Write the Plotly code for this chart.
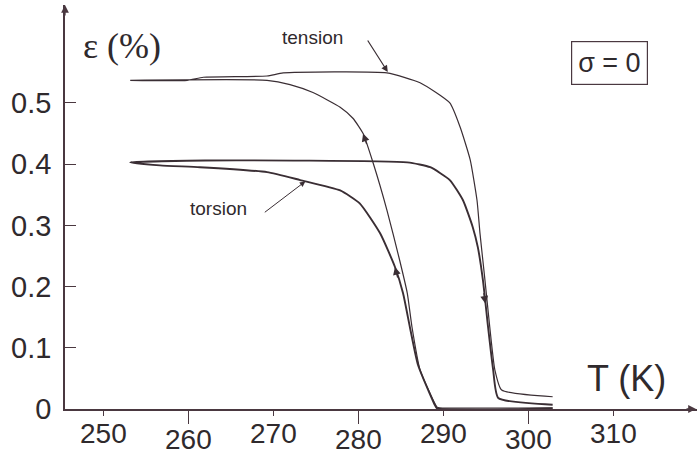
import numpy as np
import plotly.graph_objects as go

# ---------------- data ----------------
tension_cool_T = [302.9, 289.6, 289.3, 287.3, 286.35, 285.8, 284.9, 283.4, 281.8, 280.6, 279.4, 277.9, 274.7, 272.0, 269.3, 253.2]
tension_cool_eps = [0.002, 0.002, 0.003, 0.064, 0.134, 0.189, 0.243, 0.325, 0.401, 0.450, 0.475, 0.493, 0.517, 0.530, 0.537, 0.537]

tension_heat_T = [253.2, 259.9, 261.8, 269.3, 271.2, 283.4, 287.3, 290.8, 292.0, 293.2, 294.0, 294.35, 294.9, 295.5, 296.1, 296.9, 302.9]
tension_heat_eps = [0.537, 0.537, 0.542, 0.544, 0.549, 0.549, 0.533, 0.500, 0.461, 0.407, 0.341, 0.287, 0.215, 0.134, 0.064, 0.031, 0.020]

torsion_cool_T = [302.9, 289.3, 289.06, 287.06, 286.1, 285.3, 284.35, 282.6, 280.2, 277.9, 273.2, 269.3, 261.4, 256.7, 253.2]
torsion_cool_eps = [0.001, 0.001, 0.006, 0.072, 0.134, 0.189, 0.232, 0.287, 0.336, 0.357, 0.374, 0.387, 0.395, 0.398, 0.403]

torsion_heat_T = [253.2, 262.0, 285.8, 288.5, 290.8, 292.35, 293.5, 294.1, 294.7, 295.3, 295.9, 296.5, 302.9]
torsion_heat_eps = [0.403, 0.406, 0.403, 0.395, 0.374, 0.341, 0.297, 0.264, 0.210, 0.134, 0.064, 0.018, 0.007]

x_tick_vals = [250, 260, 270, 280, 290, 300, 310]
y_tick_vals = [0, 0.1, 0.2, 0.3, 0.4, 0.5]
y_tick_text = ["0", "0.1", "0.2", "0.3", "0.4", "0.5"]

# ---------------- figure ----------------
W, H = 697, 457
ML, MR, MT, MB = 65, 0, 5, 48
X_RANGE = [245.53, 319.88]
Y_RANGE = [0, 0.660]

LINE = "#3a2e34"
AXIS = "#4a3840"
TXT = "#2f2a2d"
SANS = "Liberation Sans, Arial, sans-serif"

fig = go.Figure()

fig.add_trace(go.Scatter(
    x=tension_cool_T + tension_heat_T[1:],
    y=tension_cool_eps + tension_heat_eps[1:],
    mode="lines", line=dict(color=LINE, width=1.2, shape="spline", smoothing=0.5),
    hoverinfo="skip", showlegend=False))
fig.add_trace(go.Scatter(
    x=torsion_cool_T + torsion_heat_T[1:],
    y=torsion_cool_eps + torsion_heat_eps[1:],
    mode="lines", line=dict(color=LINE, width=1.9, shape="spline", smoothing=0.5),
    hoverinfo="skip", showlegend=False))

annotations = []

# staggered x tick labels
for i, v in enumerate(x_tick_vals):
    annotations.append(dict(
        x=v, y=0, xref="x", yref="paper", text=str(v), showarrow=False,
        xanchor="center", yanchor="middle", yshift=-24 if i % 2 == 0 else -30,
        font=dict(family=SANS, size=28, color=TXT)))

def px2paper(px, py):
    return (px - ML) / (W - ML - MR), (H - MB - py) / (H - MB - MT)

# axis titles
ex, ey = px2paper(122, 46)
annotations.append(dict(x=ex, y=ey, xref="paper", yref="paper", text="ε (%)", showarrow=False,
                        xanchor="center", yanchor="middle",
                        font=dict(family="Liberation Serif, Times New Roman, serif", size=36, color=TXT)))
tx, ty = px2paper(626, 378)
annotations.append(dict(x=tx, y=ty, xref="paper", yref="paper", text="T (K)", showarrow=False,
                        xanchor="center", yanchor="middle",
                        font=dict(family=SANS, size=36, color=TXT)))

# sigma box
sx, sy = px2paper(609, 63)
annotations.append(dict(x=sx, y=sy, xref="paper", yref="paper", text="σ = 0", showarrow=False,
                        xanchor="center", yanchor="middle", bordercolor=AXIS, borderwidth=1.2,
                        borderpad=6, bgcolor="white",
                        font=dict(family=SANS, size=27, color=TXT)))

# curve labels
lx, ly = px2paper(312, 38)
annotations.append(dict(x=lx, y=ly, xref="paper", yref="paper", text="tension", showarrow=False,
                        xanchor="center", yanchor="middle", font=dict(family=SANS, size=19, color=TXT)))
lx, ly = px2paper(218, 208)
annotations.append(dict(x=lx, y=ly, xref="paper", yref="paper", text="torsion", showarrow=False,
                        xanchor="center", yanchor="middle", font=dict(family=SANS, size=19, color=TXT)))

# pointer arrows to the curves
annotations.append(dict(x=283.5, y=float(np.interp(283.5, tension_heat_T, tension_heat_eps)) + 0.002,
                        xref="x", yref="y", text="", showarrow=True, ax=-21, ay=-33,
                        arrowhead=2, arrowsize=1.1, arrowwidth=1.2, arrowcolor=LINE))
annotations.append(dict(x=273.8, y=float(np.interp(273.8, torsion_cool_T[::-1], torsion_cool_eps[::-1])),
                        xref="x", yref="y", text="", showarrow=True, ax=-42, ay=32,
                        arrowhead=2, arrowsize=1.1, arrowwidth=1.0, arrowcolor=LINE))

# direction arrows on the branches
tc = 280.6
annotations.append(dict(x=tc, y=float(np.interp(tc, tension_cool_T[::-1], tension_cool_eps[::-1])),
                        xref="x", yref="y", text="", showarrow=True, ax=4, ay=12,
                        arrowhead=2, arrowsize=1.3, arrowwidth=1.2, arrowcolor=LINE))
to = 284.35
annotations.append(dict(x=to, y=float(np.interp(to, torsion_cool_T[::-1], torsion_cool_eps[::-1])),
                        xref="x", yref="y", text="", showarrow=True, ax=3, ay=12,
                        arrowhead=2, arrowsize=1.3, arrowwidth=1.2, arrowcolor=LINE))
th = 295.0
annotations.append(dict(x=th, y=float(np.interp(th, torsion_heat_T, torsion_heat_eps)),
                        xref="x", yref="y", text="", showarrow=True, ax=-2, ay=-12,
                        arrowhead=2, arrowsize=1.3, arrowwidth=1.2, arrowcolor=LINE))

# axis end arrows
annotations.append(dict(x=1, y=0, xref="paper", yref="paper", text="", showarrow=True, ax=-12, ay=0,
                        arrowhead=2, arrowsize=1.2, arrowwidth=1.3, arrowcolor=AXIS))
annotations.append(dict(x=0, y=1, xref="paper", yref="paper", text="", showarrow=True, ax=0, ay=12,
                        arrowhead=2, arrowsize=1.2, arrowwidth=1.3, arrowcolor=AXIS))

fig.update_layout(
    width=W, height=H,
    margin=dict(l=ML, r=MR, t=MT, b=MB, autoexpand=False),
    paper_bgcolor="white", plot_bgcolor="white",
    showlegend=False,
    annotations=annotations,
    xaxis=dict(range=X_RANGE, showgrid=False, zeroline=False, showline=True, linecolor=AXIS,
               linewidth=1.5, ticks="outside", tick0=260, dtick=20, ticklen=13, tickwidth=1.3,
               tickcolor=AXIS, showticklabels=False,
               minor=dict(ticks="outside", dtick=10, tick0=250, ticklen=5, tickwidth=1.3, tickcolor=AXIS)),
    yaxis=dict(range=Y_RANGE, showgrid=False, zeroline=False, showline=True, linecolor=AXIS,
               linewidth=1.5, ticks="inside", ticklen=11, tickwidth=1.3, tickcolor=AXIS,
               tickvals=y_tick_vals, ticktext=y_tick_text, ticklabelstandoff=6,
               tickfont=dict(family=SANS, size=29, color=TXT)),
)

fig.write_html("out.html")
